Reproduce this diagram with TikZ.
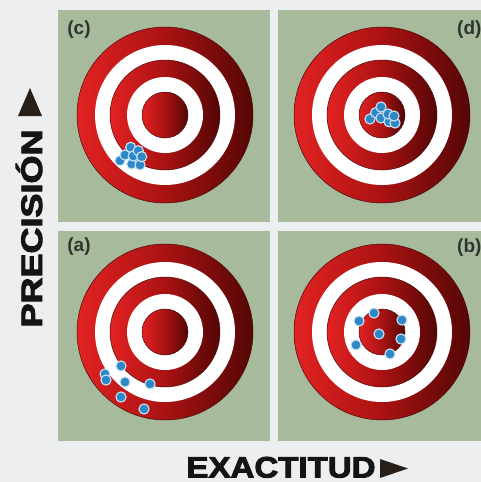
\documentclass[tikz,border=0pt]{standalone}
\usepackage{fontspec}
\setmainfont{Liberation Sans}
\newfontfamily\heavyfont{Liberation Sans}[BoldFeatures={FakeBold=3}]
\definecolor{pagebg}{RGB}{236,238,240}
\definecolor{panelgreen}{RGB}{168,186,156}
\definecolor{redL}{RGB}{226,34,34}
\definecolor{redM}{RGB}{170,18,18}
\definecolor{redR}{RGB}{84,6,6}
\definecolor{ringedge}{RGB}{70,12,12}
\definecolor{dotblue}{RGB}{46,136,200}
\definecolor{dotedge}{RGB}{205,228,242}
\definecolor{labgray}{RGB}{48,52,48}
\definecolor{arrowdark}{RGB}{40,32,24}
\tikzset{
  panel/.style={fill=panelgreen},
  redring/.style={left color=redL, right color=redR, middle color=redM, draw=ringedge, line width=0.5pt},
  whitering/.style={fill=white},
  hit/.style={fill=dotblue, draw=dotedge, line width=1.1pt},
  lab/.style={font=\bfseries\fontsize{19}{19}\selectfont, text=labgray, inner sep=0pt},
  axislab/.style={font=\heavyfont\bfseries\fontsize{29.5}{29.5}\selectfont, text=black!92, inner sep=0pt, text depth=0pt},
  tri/.style={fill=arrowdark}
}
\begin{document}
\begin{tikzpicture}[x=1pt,y=-1pt]
\useasboundingbox (0,0) rectangle (481,482);
\fill[pagebg] (0,0) rectangle (481,482);
% panels
\fill[panel] (58,10) rectangle (270,222);
\fill[panel] (278,10) rectangle (481,222);
\fill[panel] (58,231) rectangle (270,441);
\fill[panel] (278,231) rectangle (481,441);
% targets
\foreach \cx/\cy in {165/115, 382/115, 165/332, 382/332}{
  \shade[redring] (\cx,\cy) circle (88);
  \fill[whitering] (\cx,\cy) circle (70);
  \shade[redring] (\cx,\cy) circle (55);
  \fill[whitering] (\cx,\cy) circle (38);
  \shade[redring] (\cx,\cy) circle (23);
}
% hits (c)
\foreach \p in {(120,160.7),(125,155),(131.7,164),(130.7,147.3),(133.3,156),(140,165),(138.3,150.7),(141.7,156.7)}
  \filldraw[hit] \p circle (5.1);
% hits (d)
\foreach \p in {(370,119),(375.7,112.7),(381,118),(381,107),(389,121.7),(388,114),(395,123),(394,116)}
  \filldraw[hit] \p circle (5.1);
% hits (a)
\foreach \p in {(121,366),(105,374),(106,380),(125,382),(150,384),(121,397),(144,409)}
  \filldraw[hit] \p circle (5.1);
% hits (b)
\foreach \p in {(374,313),(359,321),(402,320),(379,334),(401,339),(356,345),(390,354)}
  \filldraw[hit] \p circle (5.1);
% panel labels
\node[lab] (labc) at (79,29.5) {(c)};
\node[lab, anchor=west] (labd) at (457,30) {(d)};
\node[lab] (laba) at (79,247) {(a)};
\node[lab, anchor=west] (labb) at (457,248) {(b)};
% axis labels
\node[axislab, anchor=base] (exact) at (281,477.5) {\scalebox{1.12}[1]{EXACTITUD}};
\fill[tri] (380,459) -- (380,478) -- (408,468.5) -- cycle;
\node[axislab, anchor=base, rotate=90] (prec) at (42,228.5) {\scalebox{1.22}[1]{PRECISIÓN}};
\fill[tri] (18,116) -- (42,116) -- (30,88) -- cycle;
\end{tikzpicture}
\end{document}
